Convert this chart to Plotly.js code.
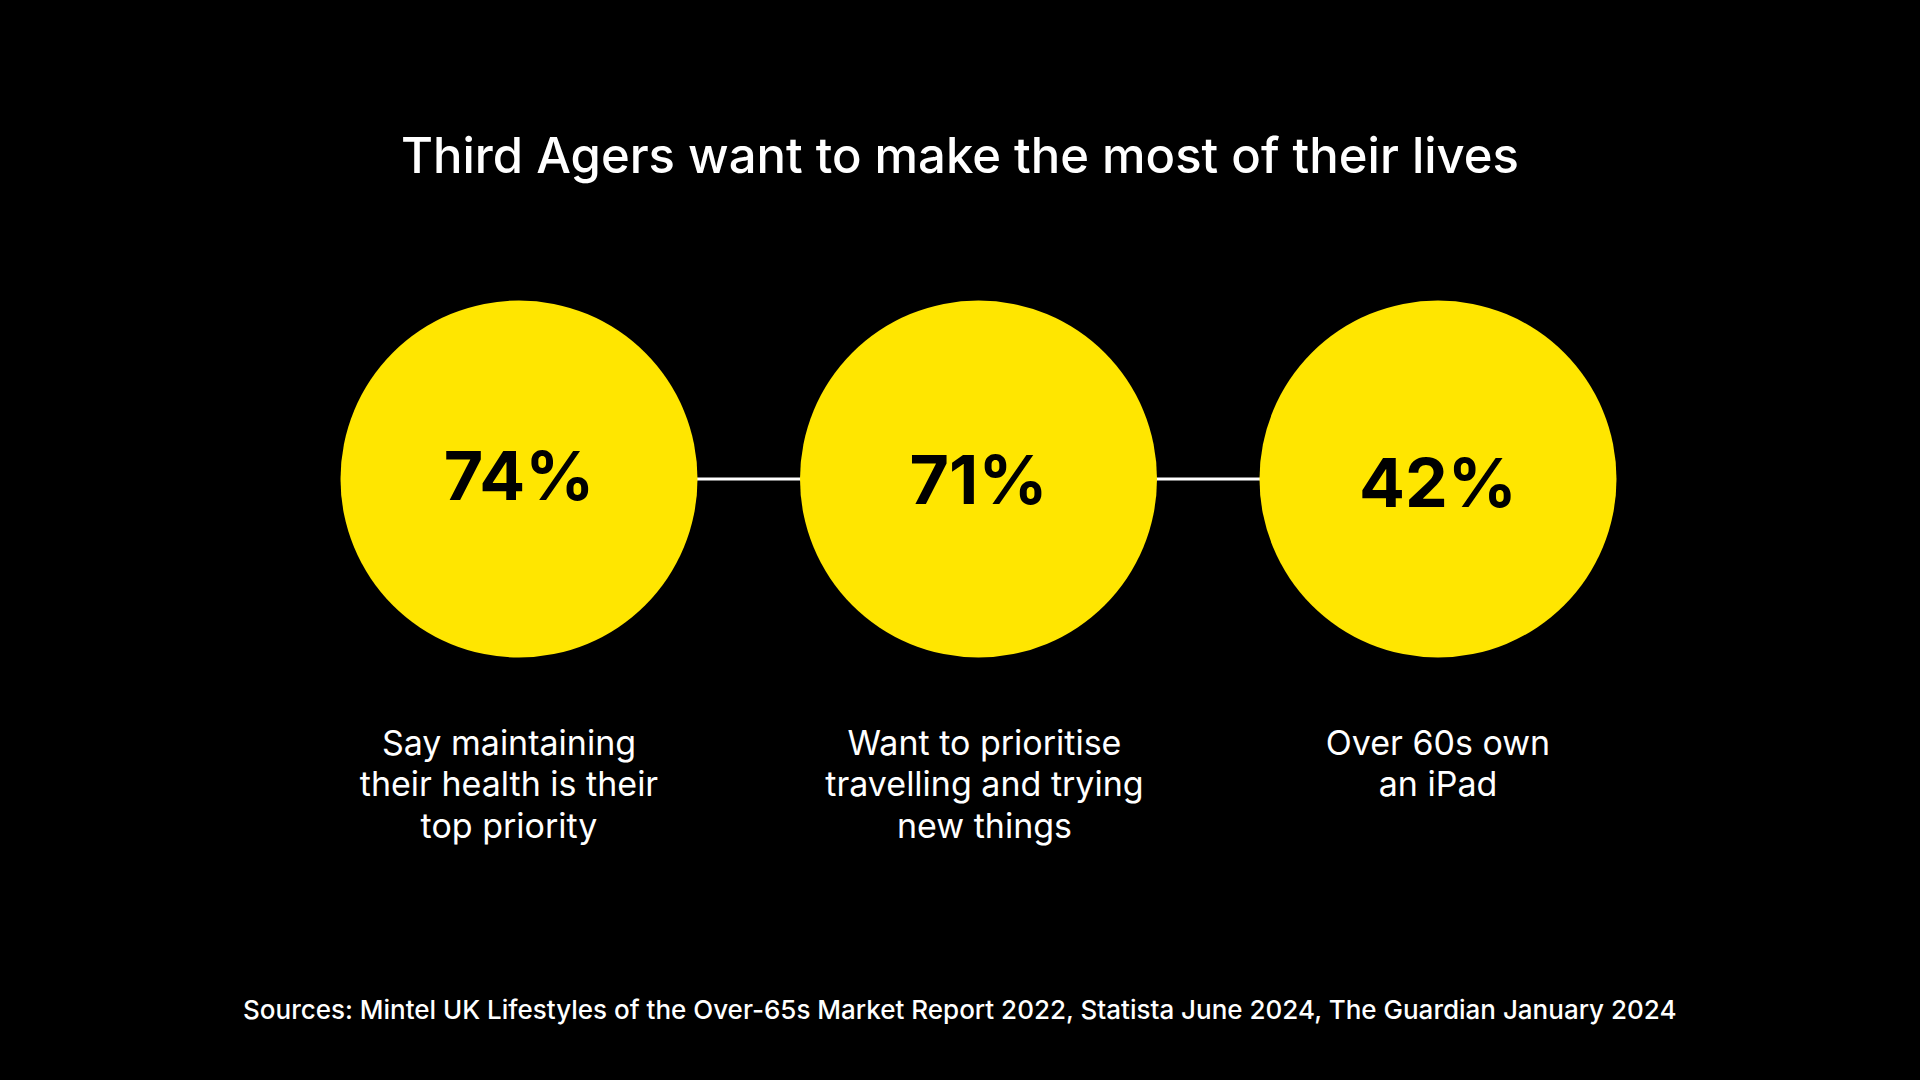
<!DOCTYPE html>
<html>
<head>
<meta charset="utf-8">
<script src="https://cdn.plot.ly/plotly-3.0.1.min.js"></script>
<style>
html,body{margin:0;padding:0;background:#000;}
#chart{width:1920px;height:1080px;}
</style>
</head>
<body>
<div id="chart"></div>
<script>
// ---- data ----
const categories = ["Health priority", "Travel & new things", "iPad ownership"];
const percentValues = [74, 71, 42];
const percentLabels = ["74%", "71%", "42%"];
const labelLines = [
  ["Say maintaining", "their health is their", "top priority"],
  ["Want to prioritise", "travelling and trying", "new things"],
  ["Over 60s own", "an iPad"]
];
const chartTitle = "Third Agers want to make the most of their lives";
const sourceText = "Sources: Mintel UK Lifestyles of the Over-65s Market Report 2022, Statista June 2024, The Guardian January 2024";

// ---- layout constants ----
const W = 1920, H = 1080;
const firstCenterPx = 519, spacingPx = 459.5, centerYPx = 479;
const circleDiameter = 357;
const pctShiftYPx = [-3.5, -8, -11];
const labelFirstLinePx = 746, labelLineGap = 41.5;
const labelShiftPx = [-10, 6, 0];
const yellow = "#FFE600";
const FONT = "Inter, 'Open Sans', sans-serif";

const xIdx = categories.map((_, i) => i);
const xRange = [-firstCenterPx / spacingPx, (W - firstCenterPx) / spacingPx];
const yRange = [-(H - centerYPx), centerYPx];

const traces = [];
// connecting line
traces.push({
  type: "scatter", mode: "lines",
  x: xIdx, y: xIdx.map(() => 0),
  line: {color: "#ffffff", width: 3},
  hoverinfo: "skip", showlegend: false
});
// circles
traces.push({
  type: "scatter", mode: "markers",
  x: xIdx, y: xIdx.map(() => 0),
  customdata: percentValues,
  marker: {size: circleDiameter, color: yellow, line: {width: 0}},
  hovertemplate: "%{customdata}%<extra></extra>",
  showlegend: false
});
// percentages
traces.push({
  type: "scatter", mode: "text",
  x: xIdx, y: pctShiftYPx,
  text: percentLabels,
  textposition: "middle center",
  textfont: {family: FONT, size: 68, color: "#000000", weight: 700},
  hoverinfo: "skip", showlegend: false
});
// description labels, one trace per line row
const maxLines = Math.max(...labelLines.map(l => l.length));
for (let j = 0; j < maxLines; j++) {
  const xs = [], ys = [], ts = [];
  labelLines.forEach((lines, i) => {
    if (j < lines.length) {
      xs.push(i + labelShiftPx[i] / spacingPx);
      ys.push(-(labelFirstLinePx + j * labelLineGap - centerYPx));
      ts.push(lines[j]);
    }
  });
  traces.push({
    type: "scatter", mode: "text",
    x: xs, y: ys, text: ts,
    textposition: "middle center",
    textfont: {family: FONT, size: 34, color: "#ffffff", weight: 400},
    hoverinfo: "skip", showlegend: false
  });
}

const layout = {
  width: W, height: H,
  paper_bgcolor: "#000000", plot_bgcolor: "#000000",
  margin: {l: 0, r: 0, t: 0, b: 0},
  showlegend: false,
  title: {
    text: chartTitle,
    font: {family: FONT, size: 49, color: "#ffffff", weight: 500},
    x: 0.5, xanchor: "center",
    yref: "container", y: 1 - 156 / H, yanchor: "middle"
  },
  xaxis: {range: xRange, visible: false, fixedrange: true},
  yaxis: {range: yRange, visible: false, fixedrange: true},
  annotations: [{
    text: sourceText,
    xref: "paper", yref: "paper",
    x: 0.5, y: 1 - 1009 / H, xanchor: "center", yanchor: "middle",
    showarrow: false,
    font: {family: FONT, size: 26, color: "#ffffff", weight: 500}
  }]
};

Plotly.newPlot("chart", traces, layout, {displayModeBar: false, staticPlot: true});
</script>
</body>
</html>
